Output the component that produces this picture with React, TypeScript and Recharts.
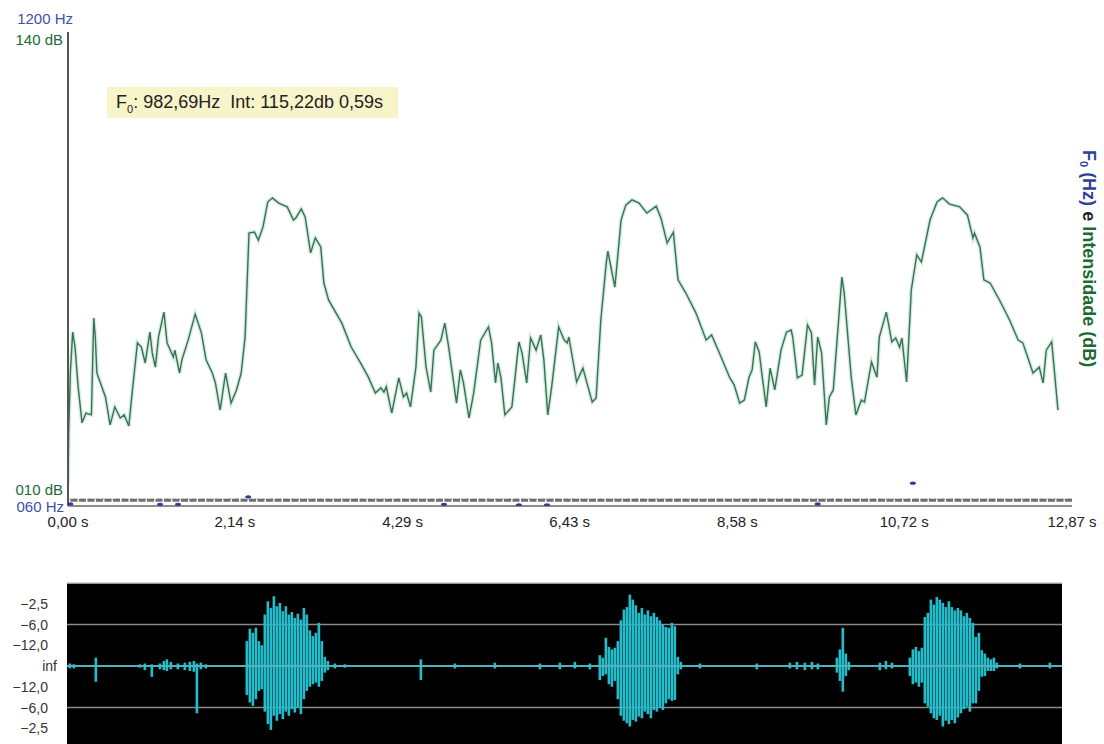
import React from 'react';
import {
  ComposedChart,
  Line,
  Scatter,
  Bar,
  XAxis,
  YAxis,
  ReferenceLine,
  CartesianGrid,
} from 'recharts';

const FONT = '"Liberation Sans", Arial, Helvetica, sans-serif';

const timeTicks = [0, 2.14, 4.29, 6.43, 8.58, 10.72, 12.87];

// intensidade (dB) x tempo (s)
const intensityTimes = [
  0.0, 0.01, 0.03, 0.06, 0.09, 0.13, 0.18, 0.23, 0.3, 0.33,
  0.35, 0.37, 0.48, 0.54, 0.6, 0.67, 0.72, 0.78, 0.83, 0.89,
  0.94, 0.99, 1.05, 1.08, 1.12, 1.16, 1.23, 1.27, 1.35, 1.37,
  1.43, 1.46, 1.54, 1.63, 1.71, 1.77, 1.85, 1.89, 1.95, 2.02,
  2.09, 2.16, 2.22, 2.27, 2.32, 2.39, 2.44, 2.5, 2.56, 2.62,
  2.7, 2.76, 2.81, 2.89, 2.92, 2.99, 3.04, 3.11, 3.17, 3.24,
  3.28, 3.34, 3.51, 3.63, 3.75, 3.85, 3.94, 4.01, 4.05, 4.08,
  4.15, 4.24, 4.3, 4.34, 4.39, 4.46, 4.5, 4.53, 4.59, 4.65,
  4.69, 4.78, 4.83, 4.88, 4.98, 5.03, 5.07, 5.14, 5.2, 5.29,
  5.39, 5.43, 5.48, 5.51, 5.55, 5.6, 5.69, 5.78, 5.82, 5.88,
  5.93, 6.0, 6.06, 6.1, 6.15, 6.2, 6.29, 6.36, 6.4, 6.42,
  6.52, 6.6, 6.72, 6.77, 6.83, 6.9, 6.92, 7.01, 7.09, 7.15,
  7.23, 7.32, 7.42, 7.54, 7.6, 7.68, 7.76, 7.82, 7.92, 8.05,
  8.18, 8.25, 8.35, 8.48, 8.54, 8.61, 8.67, 8.73, 8.77, 8.81,
  8.86, 8.9, 8.95, 9.0, 9.06, 9.14, 9.21, 9.27, 9.29, 9.35,
  9.41, 9.48, 9.53, 9.57, 9.61, 9.66, 9.72, 9.76, 9.81, 9.92,
  9.95, 10.04, 10.1, 10.17, 10.21, 10.3, 10.37, 10.4, 10.49, 10.56,
  10.61, 10.66, 10.69, 10.75, 10.81, 10.88, 10.94, 11.05, 11.14, 11.21,
  11.3, 11.43, 11.53, 11.6, 11.62, 11.69, 11.74, 11.82, 11.94, 12.07,
  12.18, 12.24, 12.37, 12.45, 12.5, 12.54, 12.61, 12.69,
];
const intensityDb = [
  12.0, 28.0, 43.8, 55.6, 51.3, 39.8, 29.4, 32.2, 31.7, 59.7,
  54.2, 43.8, 36.9, 28.8, 34.0, 30.8, 31.7, 28.5, 39.8, 52.5,
  51.3, 46.7, 55.6, 49.6, 45.5, 54.2, 61.4, 52.5, 48.4, 50.4,
  43.8, 47.6, 53.3, 60.8, 55.4, 47.6, 43.8, 40.9, 33.1, 43.8,
  35.1, 38.9, 43.8, 54.2, 84.2, 84.5, 82.2, 86.0, 93.2, 94.4,
  92.9, 92.3, 91.8, 88.0, 88.6, 91.2, 88.9, 78.5, 82.8, 80.2,
  69.8, 64.9, 58.2, 51.3, 46.7, 42.6, 38.0, 39.5, 38.3, 39.8,
  32.2, 42.4, 36.9, 38.0, 34.0, 45.5, 61.1, 60.0, 45.5, 38.3,
  50.4, 53.3, 58.2, 51.3, 35.1, 44.7, 40.9, 30.8, 38.0, 53.3,
  57.1, 52.5, 40.9, 46.7, 42.4, 31.7, 34.0, 52.8, 49.6, 40.9,
  53.9, 50.4, 54.8, 47.6, 31.7, 39.8, 57.1, 53.3, 52.5, 54.2,
  41.2, 45.2, 35.4, 36.6, 59.1, 75.6, 79.0, 68.6, 88.0, 92.3,
  93.8, 92.9, 90.0, 92.0, 88.6, 81.4, 84.5, 70.7, 66.9, 61.1,
  53.3, 54.8, 49.6, 42.6, 40.3, 35.1, 36.0, 42.6, 44.7, 52.8,
  49.9, 42.6, 34.0, 45.2, 38.9, 50.4, 55.6, 56.2, 54.2, 42.4,
  43.2, 57.7, 55.4, 40.3, 54.2, 49.6, 28.8, 36.9, 38.9, 71.5,
  66.9, 42.6, 31.7, 36.0, 35.4, 47.0, 42.6, 54.2, 61.4, 52.8,
  53.9, 51.3, 53.9, 41.2, 67.8, 77.9, 75.9, 88.0, 93.2, 94.4,
  92.6, 91.8, 89.4, 82.8, 84.2, 80.2, 70.7, 69.8, 64.9, 59.1,
  53.3, 52.5, 43.8, 45.5, 40.9, 50.4, 52.8, 33.1,
];

// F0 (Hz): poucos pontos detectados
const f0Times = [0.03, 1.18, 1.41, 2.31, 4.82, 5.78, 6.14, 9.61, 10.83];
const f0Hz = [65, 64, 64, 82, 64, 63, 63, 65, 115];

// forma de onda: envelope (amplitude normalizada) por janela
const waveTimes = [
  0.039, 0.091, 0.375, 0.944, 1.009, 1.099, 1.203, 1.255, 1.294, 1.345,
  1.436, 1.526, 1.591, 1.643, 1.682, 1.733, 1.798,
  2.328, 2.367, 2.406, 2.445, 2.484, 2.522, 2.561, 2.6, 2.639, 2.678,
  2.716, 2.755, 2.794, 2.833, 2.872, 2.91, 2.949, 2.988, 3.027, 3.066,
  3.104, 3.143, 3.182, 3.221, 3.26, 3.298, 3.337, 3.376,
  3.467, 3.596, 4.579, 5.019, 5.536, 6.118, 6.377, 6.571, 6.765,
  6.894, 6.933, 6.972, 7.011, 7.05, 7.088, 7.127, 7.166, 7.205, 7.244,
  7.282, 7.321, 7.36, 7.399, 7.438, 7.476, 7.515, 7.554, 7.593, 7.632,
  7.67, 7.709, 7.748, 7.787, 7.826, 7.864, 7.903, 7.942,
  8.188, 8.925, 9.352, 9.443, 9.546, 9.637, 9.714, 9.96, 9.999, 10.037,
  10.076, 10.115, 10.516, 10.594, 10.672,
  10.904, 10.943, 10.982, 11.021, 11.059, 11.098, 11.137, 11.176, 11.215, 11.253,
  11.292, 11.331, 11.37, 11.409, 11.447, 11.486, 11.525, 11.564, 11.603, 11.641,
  11.68, 11.719, 11.758, 11.797, 11.835, 11.874, 11.913, 11.952, 11.991, 12.029,
  12.327, 12.715,
];
const waveHigh = [
  0.03, 0.02, 0.1, 0.02, 0.03, 0.02, 0.03, 0.06, 0.08, 0.05,
  0.03, 0.04, 0.05, 0.06, 0.03, 0.04, 0.02,
  0.3, 0.45, 0.4, 0.46, 0.3, 0.25, 0.62, 0.78, 0.7, 0.84,
  0.72, 0.76, 0.66, 0.72, 0.62, 0.65, 0.58, 0.63, 0.56, 0.7,
  0.62, 0.43, 0.36, 0.4, 0.52, 0.3, 0.11, 0.06,
  0.03, 0.02, 0.08, 0.03, 0.04, 0.03, 0.04, 0.05, 0.03,
  0.13, 0.1, 0.34, 0.23, 0.2, 0.22, 0.3, 0.55, 0.68, 0.71,
  0.86, 0.8, 0.73, 0.64, 0.7, 0.62, 0.67, 0.6, 0.64, 0.59,
  0.55, 0.5, 0.47, 0.46, 0.52, 0.48, 0.11, 0.05,
  0.03, 0.03, 0.04, 0.05, 0.04, 0.05, 0.03, 0.1, 0.2, 0.46,
  0.15, 0.05, 0.04, 0.06, 0.04,
  0.1, 0.2, 0.23, 0.18, 0.22, 0.59, 0.64, 0.8, 0.74, 0.83,
  0.8, 0.76, 0.71, 0.78, 0.71, 0.67, 0.7, 0.67, 0.6, 0.64,
  0.58, 0.52, 0.35, 0.4, 0.19, 0.15, 0.1, 0.08, 0.1, 0.04,
  0.03, 0.04,
];
const waveLow = [
  -0.03, -0.03, -0.19, -0.02, -0.05, -0.13, -0.04, -0.05, -0.06, -0.04,
  -0.04, -0.05, -0.06, -0.07, -0.57, -0.04, -0.03,
  -0.35, -0.44, -0.48, -0.4, -0.3, -0.28, -0.55, -0.7, -0.77, -0.6,
  -0.66, -0.58, -0.64, -0.55, -0.6, -0.52, -0.56, -0.5, -0.58, -0.4,
  -0.3, -0.25, -0.22, -0.2, -0.25, -0.18, -0.08, -0.05,
  -0.03, -0.02, -0.17, -0.03, -0.03, -0.04, -0.04, -0.03, -0.04,
  -0.17, -0.12, -0.1, -0.22, -0.25, -0.18, -0.4, -0.6, -0.66, -0.69,
  -0.73, -0.65, -0.67, -0.61, -0.63, -0.55, -0.58, -0.63, -0.53, -0.55,
  -0.5, -0.53, -0.45, -0.4, -0.42, -0.41, -0.1, -0.04,
  -0.03, -0.04, -0.03, -0.04, -0.05, -0.04, -0.04, -0.08, -0.18, -0.31,
  -0.12, -0.05, -0.05, -0.04, -0.03,
  -0.12, -0.22, -0.2, -0.25, -0.2, -0.45, -0.49, -0.57, -0.63, -0.65,
  -0.6, -0.73, -0.66, -0.7, -0.65, -0.69, -0.62, -0.57, -0.52, -0.49,
  -0.55, -0.45, -0.45, -0.3, -0.13, -0.12, -0.06, -0.06, -0.06, -0.03,
  -0.03, -0.03,
];

const ampTicks = [0.75, 0.5, 0.25, 0, -0.25, -0.5, -0.75];
const ampLabels = ['−2,5', '−6,0', '−12,0', 'inf', '−12,0', '−6,0', '−2,5'];

const intensityData = intensityTimes.map((t, i) => ({ t, db: intensityDb[i] }));
const f0Data = f0Times.map((t, i) => ({ t, hz: f0Hz[i] }));
const waveData = waveTimes.map((t, i) => ({ t, hi: waveHigh[i], lo: waveLow[i] }));

const fmtTime = (v: number) => v.toFixed(2).replace('.', ',') + ' s';

// dB ticks sit on the left axis (x ~ 60 = axis - tickSize - margin)
const DbTick = (props: any) => {
  const { x, y, payload } = props;
  return (
    <text x={x + 3} y={y} dy={5} textAnchor="end" fill="#1d6a37" fontSize={15} fontFamily={FONT}>
      {payload.value === 10 ? '010 dB' : '140 dB'}
    </text>
  );
};

// Hz axis lives on the right, but its labels are drawn next to the left axis
const HzTick = (props: any) => {
  const { y, payload } = props;
  const top = payload.value === 1200;
  return (
    <text
      x={top ? 73 : 64}
      y={y + (top ? -13 : 1)}
      dy={5}
      textAnchor="end"
      fill="#3d4fae"
      fontSize={15}
      fontFamily={FONT}
    >
      {top ? '1200 Hz' : '060 Hz'}
    </text>
  );
};

const AmpTick = (props: any) => {
  const { y, payload } = props;
  const i = ampTicks.indexOf(payload.value);
  const isInf = payload.value === 0;
  return (
    <text x={isInf ? 57 : 48} y={y} dy={5} textAnchor="end" fill="#333" fontSize={14} fontFamily={FONT}>
      {ampLabels[i]}
    </text>
  );
};

const F0Dot = (props: any) => (
  <ellipse cx={props.cx} cy={props.cy} rx={3} ry={1.6} fill="#2c3b9e" />
);

export default function App() {
  return (
    <div
      style={{
        position: 'fixed',
        left: 0,
        top: 0,
        width: 1104,
        height: 744,
        overflow: 'hidden',
        background: '#fff',
        fontFamily: FONT,
      }}
    >
      <div style={{ position: 'absolute', left: 0, top: 0 }}>
        <ComposedChart
          width={1104}
          height={540}
          data={intensityData}
          margin={{ top: 32, right: 31, bottom: 4, left: 0 }}
        >
          <XAxis
            dataKey="t"
            type="number"
            domain={[0, 12.87]}
            ticks={timeTicks}
            interval={0}
            allowDataOverflow
            tickFormatter={fmtTime}
            axisLine={{ stroke: '#8c8c8c', strokeWidth: 2 }}
            tickLine={false}
            tickMargin={4}
            tick={{ fill: '#222', fontSize: 15, fontFamily: FONT }}
            height={30}
          />
          <YAxis
            yAxisId="db"
            orientation="left"
            domain={[5.38, 142.31]}
            ticks={[10, 140]}
            interval={0}
            allowDataOverflow
            width={68}
            axisLine={{ stroke: '#555', strokeWidth: 2 }}
            tickLine={false}
            tick={<DbTick />}
          />
          <YAxis
            yAxisId="hz"
            orientation="right"
            domain={[60, 1200]}
            ticks={[60, 1200]}
            interval={0}
            allowDataOverflow
            width={1}
            axisLine={false}
            tickLine={false}
            tick={<HzTick />}
          />
          <ReferenceLine yAxisId="hz" y={76} stroke="#d6d6d6" strokeWidth={2} strokeDasharray="5 2" />
          <ReferenceLine yAxisId="hz" y={74} stroke="#6f6f6f" strokeWidth={3} strokeDasharray="7 1.5" />
          <Line
            yAxisId="db"
            dataKey="db"
            type="linear"
            stroke="#a6dcbf"
            strokeWidth={4}
            strokeOpacity={0.5}
            dot={false}
            activeDot={false}
            isAnimationActive={false}
          />
          <Line
            yAxisId="db"
            dataKey="db"
            type="linear"
            stroke="#3b7054"
            strokeWidth={1.4}
            dot={false}
            activeDot={false}
            isAnimationActive={false}
          />
          <Scatter
            yAxisId="hz"
            data={f0Data}
            dataKey="hz"
            shape={<F0Dot />}
            isAnimationActive={false}
          />
        </ComposedChart>
      </div>

      <div
        style={{
          position: 'absolute',
          left: 107,
          top: 87,
          width: 291,
          height: 31,
          background: '#f7f4c9',
          color: '#222',
          fontSize: 18,
          lineHeight: '31px',
          paddingLeft: 9,
          boxSizing: 'border-box',
          whiteSpace: 'pre',
        }}
      >
        F<sub style={{ fontSize: 11 }}>0</sub>: 982,69Hz  Int: 115,22db 0,59s
      </div>

      <div
        style={{
          position: 'absolute',
          left: 1078,
          top: 150,
          writingMode: 'vertical-rl',
          fontWeight: 700,
          fontSize: 18,
          whiteSpace: 'pre',
        }}
      >
        <span style={{ color: '#2e3f9c' }}>
          F<sub style={{ fontSize: 11 }}>0</sub> (Hz)
        </span>
        <span style={{ color: '#222' }}> e </span>
        <span style={{ color: '#1b6a30' }}>Intensidade (dB)</span>
      </div>

      <div style={{ position: 'absolute', left: 0, top: 570 }}>
        <ComposedChart
          width={1104}
          height={180}
          data={waveData}
          margin={{ top: 13, right: 42, bottom: 1, left: 0 }}
          barGap={0}
        >
          <CartesianGrid
            fill="#000"
            fillOpacity={1}
            vertical={false}
            horizontalValues={[-0.5, 0.5]}
            stroke="#8a8a8a"
            strokeWidth={1.5}
          />
          <XAxis dataKey="t" type="number" domain={[0, 12.87]} allowDataOverflow hide />
          <YAxis
            domain={[-1, 1]}
            ticks={ampTicks}
            interval={0}
            width={67}
            axisLine={false}
            tickLine={false}
            tick={<AmpTick />}
          />
          <ReferenceLine y={1} stroke="#c8c8c8" strokeWidth={1.5} />
          <ReferenceLine y={0} stroke="#4fb3bb" strokeWidth={2} />
          <Bar
            dataKey={(d: any) => [d.lo, d.hi]}
            fill="#22bccb"
            barSize={4}
            isAnimationActive={false}
          />
        </ComposedChart>
      </div>
    </div>
  );
}
